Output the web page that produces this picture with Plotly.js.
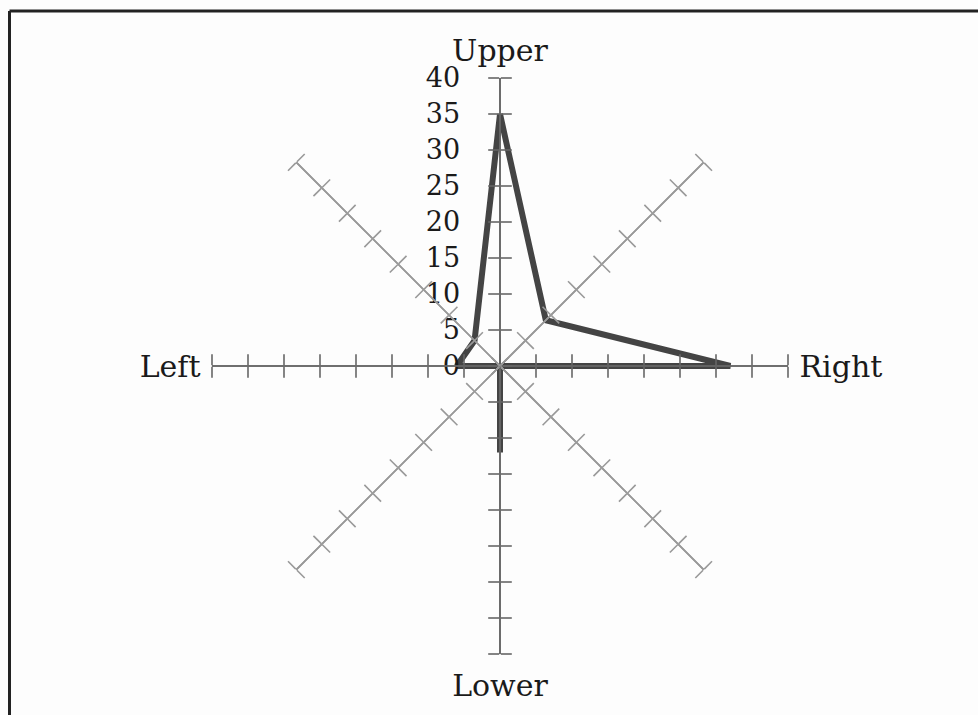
<!DOCTYPE html>
<html>
<head>
<meta charset="utf-8">
<script src="https://cdn.plot.ly/plotly-3.0.1.min.js"></script>
<style>
  html, body { margin: 0; padding: 0; background: #fdfdfd; }
  #chart { width: 978px; height: 715px; }
</style>
</head>
<body>
<div id="chart"></div>
<script>
// Eight directions, clockwise from the top
const categories = ['Upper', 'Upper right', 'Right', 'Lower right', 'Lower', 'Lower left', 'Left', 'Upper left'];
const values = [35, 9, 32, 0, 12, 0, 6, 5];
// Only the four main directions carry a name
const axisLabels = ['Upper', '', 'Right', '', 'Lower', '', 'Left', ''];
const radialTicks = [0, 5, 10, 15, 20, 25, 30, 35, 40];

const W = 978, H = 715;
const cx = 500, cy = 366, R = 288;
const domain = { x: [(cx - R) / W, (cx + R) / W], y: [1 - (cy + R) / H, 1 - (cy - R) / H] };
const serif = '"DejaVu Serif", "Liberation Serif", serif';
const clear = 'rgba(0,0,0,0)';

const step = 360 / categories.length;
const theta = categories.map((c, i) => i * step);

const layout = {
  width: W, height: H,
  margin: { l: 0, r: 0, t: 0, b: 0 },
  paper_bgcolor: '#fdfdfd',
  showlegend: false,
  font: { family: serif, color: '#1a1a1a' },
  shapes: [
    { type: 'line', xref: 'paper', yref: 'paper', x0: 9.5 / W, x1: 1.05, y0: 1 - 11 / H, y1: 1 - 11 / H, line: { color: '#222', width: 3 } },
    { type: 'line', xref: 'paper', yref: 'paper', x0: 9.5 / W, x1: 9.5 / W, y0: 1 - 11 / H, y1: -0.05, line: { color: '#222', width: 3 } }
  ]
};

function hiddenAngular(extra) {
  return Object.assign({
    rotation: 90,
    direction: 'clockwise',
    thetaunit: 'degrees',
    showticklabels: false,
    ticks: '',
    showline: false,
    showgrid: false
  }, extra || {});
}

const traces = [];
let n = 0;
function addPolar(cfg) {
  n += 1;
  const key = n === 1 ? 'polar' : 'polar' + n;
  layout[key] = Object.assign({ domain: domain, bgcolor: clear, hole: 0 }, cfg);
  traces.push({ type: 'scatterpolar', subplot: key, r: [], theta: [], mode: 'lines', hoverinfo: 'skip', showlegend: false });
  return key;
}

// Base subplot: direction names around the outside and the radial scale on the Upper spoke
const base = addPolar({
  radialaxis: {
    range: [0, 40],
    angle: 90,
    side: 'counterclockwise',
    tickmode: 'array',
    tickvals: radialTicks,
    ticktext: radialTicks.map(String),
    tickangle: 90,
    tickfont: { family: serif, size: 27, color: '#1a1a1a' },
    ticks: 'outside',
    ticklen: 30,
    tickcolor: clear,
    showline: false,
    showgrid: false
  },
  angularaxis: hiddenAngular({
    tickmode: 'array',
    tickvals: theta,
    ticktext: axisLabels,
    showticklabels: true,
    tickfont: { family: serif, size: 30, color: '#1a1a1a' },
    ticks: 'outside',
    ticklen: 5,
    tickcolor: clear
  })
});

// One spoke per direction, ticks drawn on both sides of it
categories.forEach((c, i) => {
  const mathAngle = 90 - i * step;           // radial axis angle, counterclockwise from east
  const cardinal = axisLabels[i] !== '';
  const col = cardinal ? '#666666' : '#999999';
  ['outside', 'inside'].forEach(tk => {
    addPolar({
      radialaxis: {
        range: [0, 40],
        angle: mathAngle,
        side: 'counterclockwise',
        tickmode: 'array',
        tickvals: radialTicks,
        showticklabels: false,
        ticks: tk,
        ticklen: 11,
        tickwidth: 1.6,
        tickcolor: col,
        showline: true,
        linecolor: col,
        linewidth: 1.6,
        showgrid: false
      },
      angularaxis: hiddenAngular()
    });
  });
});

// The profile itself, closed back to its first point
traces.push({
  type: 'scatterpolar',
  subplot: base,
  r: values.concat([values[0]]),
  theta: theta.concat([theta[0]]),
  mode: 'lines',
  line: { color: '#444444', width: 6 },
  hoverinfo: 'r+theta'
});

Plotly.newPlot('chart', traces, layout, { displayModeBar: false, staticPlot: true });
</script>
</body>
</html>
